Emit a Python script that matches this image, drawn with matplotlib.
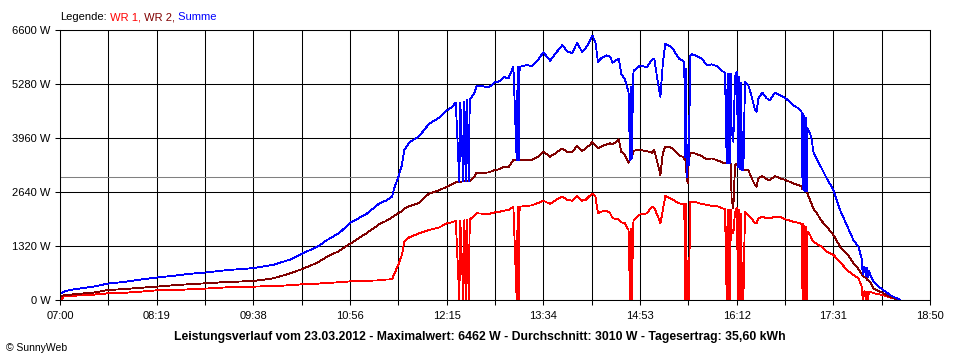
import matplotlib
matplotlib.use('Agg')
import matplotlib.pyplot as plt
import numpy as np

plt.rcParams['font.family'] = ['Liberation Sans', 'DejaVu Sans']

# minutes after 07:00
minutes = [0, 1.5, 3, 8, 17, 27, 39, 54, 66, 79, 95, 106, 118, 136, 158, 174, 188, 197,
           210, 218, 228, 237, 250, 261, 266, 271, 273, 276, 279, 281, 285, 293, 301, 309,
           316, 320, 323, 325.9, 326.7, 329.2, 330.0, 331.4, 332.2, 333.6, 334.4, 338, 340,
           346, 350, 355, 359, 362, 366, 370, 372.7, 373.5, 374.3, 375.1, 381, 385, 390,
           394.5, 400, 405, 410, 414, 418, 422, 426, 429, 432, 434.5, 437, 439, 442, 446,
           449, 451, 456, 458, 461, 464, 465.2, 465.9, 466.5, 468, 473, 479, 483, 485, 488,
           490, 492, 494, 497, 500, 505, 508, 509.5, 510.0, 510.8, 511.5, 512.3, 513.0,
           513.8, 514.3, 515.5, 518.2, 523.7, 527.7, 531.8, 535.9, 540, 542.7, 544.1, 544.8,
           545.4, 546.1, 546.8, 547.5, 548.1, 549.5, 550.9, 552.2, 553.6, 554.2, 554.9,
           555.6, 556.3, 557.0, 557.7, 559.0, 561.7, 564.5, 567.2, 568.5, 569.9, 573.2,
           576.7, 579.4, 583.5, 587.5, 592.2, 598.4, 602.5, 605.2, 606.0, 606.5, 607.0,
           607.6, 608.2, 608.8, 609.4, 610.0, 612.1, 613.5, 614.8, 617.6, 621.6, 625.7,
           631.2, 636.6, 642.0, 647.5, 651.6, 654.3, 655.1, 656.5, 657.8, 658.6, 659.4,
           660.2, 661.1, 663.8, 666.5, 671.1, 677.4, 682.8, 685.6]

wr1 = [81, 20, 85, 98, 115, 130, 163, 179, 205, 236, 244, 262, 277, 310, 326, 342, 360, 383,
       400, 415, 435, 456, 470, 481, 500, 506, 652, 855, 1100, 1426, 1532, 1630, 1711, 1768,
       1874, 1900, 1938, 0, 1940, 0, 1950, 0, 1960, 0, 1970, 2050, 2119,
       2110, 2103, 2143, 2160, 2184, 2200, 2281, 0, 2281, 0, 2281, 2300, 2314, 2370,
       2428, 2346, 2450, 2525, 2450, 2428, 2542, 2428, 2450, 2540, 2600, 2525, 2119, 2160, 2184,
       2119, 1997, 1971, 1900, 1874, 1711, 0, 1750, 0, 1938, 2087, 2119, 2281, 2250, 2037,
       1874, 2200, 2542, 2500, 2460, 2363, 2350, 2350, 0, 2350, 0, 950, 0,
       1250, 2395, 2403, 2400, 2346, 2330, 2300, 2297, 2250, 2216, 0, 2200,
       0, 2200, 0, 2200, 1700, 1630, 2150, 2250, 0, 2200, 0,
       2100, 0, 900, 0, 2160, 2077, 1997, 1874, 1874, 1997, 2037,
       1997, 1997, 2037, 2037, 1971, 1914, 1890, 1857, 0, 1850, 0,
       1820, 0, 1800, 0, 1670, 1589, 1500, 1426, 1370, 1303, 1181,
       1100, 936, 733, 611, 530, 326, 0, 220, 0, 210, 0,
       205, 204, 170, 150, 122, 65, 20, 0]

wr2 = [98, 100, 115, 130, 155, 179, 244, 269, 300, 326, 366, 385, 407, 440, 464, 530, 652, 750,
       912, 1059, 1200, 1380, 1630, 1860, 1930, 2020, 2060, 2119, 2170, 2230, 2290, 2370, 2600, 2680,
       2769, 2830, 2880, 2890, 2890, 2900, 2900, 2905, 2910, 2915, 2917, 3000, 3112,
       3110, 3120, 3177, 3200, 3258, 3240, 3422, 3422, 3422, 3422, 3422, 3430, 3420, 3500,
       3625, 3503, 3600, 3707, 3620, 3620, 3764, 3640, 3707, 3780, 3862, 3780, 3707, 3760, 3800,
       3830, 3800, 3926, 3625, 3550, 3356, 3422, 3450, 3450, 3650, 3666, 3640, 3600, 3666, 3300,
       3055, 3600, 3747, 3747, 3700, 3540, 3503, 3450, 3500, 3300, 3000, 2850, 3300,
       3500, 3568, 3600, 3580, 3519, 3440, 3460, 3422, 3370, 3340, 3340, 3340,
       3340, 3340, 3340, 3330, 2450, 2240, 3300, 3330, 3250, 3250, 3200,
       3200, 3180, 3180, 3177, 3180, 3177, 2974, 2810, 2769, 2974, 3030,
       2950, 2933, 3030, 2974, 2933, 2852, 2810, 2769, 2700, 2700, 2690,
       2680, 2670, 2660, 2650, 2600, 2444, 2340, 2240, 2120, 1930, 1792,
       1590, 1303, 1141, 904, 760, 640, 600, 560, 540, 500, 480,
       460, 440, 285, 240, 179, 81, 10, 0]

summe = [178, 160, 200, 244, 285, 325, 400, 448, 500, 550, 600, 640, 670, 730, 780, 860, 990, 1124,
         1303, 1466, 1640, 1890, 2102, 2370, 2430, 2530, 2750, 3000, 3300, 3666, 3850, 4000, 4300, 4450,
         4640, 4720, 4830, 2890, 4830, 2900, 4850, 2905, 4900, 2915, 4890, 5050, 5230,
         5220, 5200, 5320, 5350, 5450, 5420, 5703, 3422, 5703, 3422, 5700, 5743, 5720, 5866,
         6053, 5849, 6050, 6232, 6069, 6040, 6290, 6069, 6150, 6313, 6462, 6300, 5824, 5920, 5980,
         5950, 5800, 5900, 5530, 5400, 5080, 3422, 5200, 3450, 5600, 5720, 5700, 5866, 5900, 5296,
         4969, 5800, 6257, 6220, 6150, 5905, 5853, 5800, 3500, 5650, 3000, 3800, 3300,
         4750, 5963, 6012, 5980, 5905, 5743, 5760, 5720, 5605, 5556, 3340, 5540,
         3340, 5540, 3340, 5530, 4155, 3870, 5450, 5580, 3250, 5450, 3200,
         5300, 3180, 4100, 3177, 5336, 5255, 4969, 4644, 4603, 4929, 5067,
         4929, 4888, 5067, 5010, 4929, 4766, 4685, 4603, 2700, 4550, 2690,
         4500, 2670, 4460, 2650, 4200, 4074, 3910, 3625, 3450, 3218, 2974,
         2688, 2200, 1833, 1466, 1303, 1000, 640, 815, 580, 780, 560,
         720, 620, 450, 367, 260, 122, 41, 0]

average = 3010
x_labels = ['07:00', '08:19', '09:38', '10:56', '12:15', '13:34', '14:53', '16:12', '17:31', '18:50']
y_values = [0, 1320, 2640, 3960, 5280, 6600]
title = ('Leistungsverlauf vom 23.03.2012 - Maximalwert: 6462 W - '
         'Durchschnitt: 3010 W - Tagesertrag: 35,60 kWh')

fig = plt.figure(figsize=(9.6, 3.6), dpi=100)
ax = fig.add_axes([60 / 960, 60 / 360, 870 / 960, 270 / 360])
ax.set_xlim(0, 710)
ax.set_ylim(0, 6600)

grid_x = np.arange(19) * 710 / 18
ax.set_xticks(grid_x)
ax.set_xticklabels([x_labels[i // 2] if i % 2 == 0 else '' for i in range(19)])
ax.set_yticks(y_values)
ax.set_yticklabels([f'{v} W' for v in y_values])
ax.grid(True, color='black', lw=0.75)
ax.set_axisbelow(True)
ax.tick_params(direction='out', length=3.6, width=0.75, labelsize=8, colors='black')
ax.tick_params(axis='x', pad=4)
ax.tick_params(axis='y', pad=3)
for s in ax.spines.values():
    s.set_linewidth(0.75)

ax.axhline(average, color='#808080', lw=0.75, zorder=1.5)
ax.plot(minutes, wr1, color='#ff0000', lw=0.6, antialiased=False)
ax.plot(minutes, wr2, color='#800000', lw=0.6, antialiased=False)
ax.plot(minutes, summe, color='#0000ff', lw=0.6, antialiased=False)

# legend line on top
leg = fig.text(60 / 960, 1 - 20 / 360, 'Legende:', fontsize=8, color='black', va='baseline')
prev = leg
for txt, col in [(' WR 1,', '#ff0000'), (' WR 2,', '#800000'), (' Summe', '#0000ff')]:
    prev = ax.annotate(txt, xy=(1, 0), xycoords=prev, fontsize=8, color=col,
                       ha='left', va='bottom', annotation_clip=False)

fig.text(0.5, 1 - 337 / 360, title, ha='center', va='center', fontsize=8.8, fontweight='bold')
fig.text(6 / 960, 1 - 348 / 360, '\u00a9 SunnyWeb', fontsize=7.5, va='center')

fig.savefig('out.png', dpi=100)
